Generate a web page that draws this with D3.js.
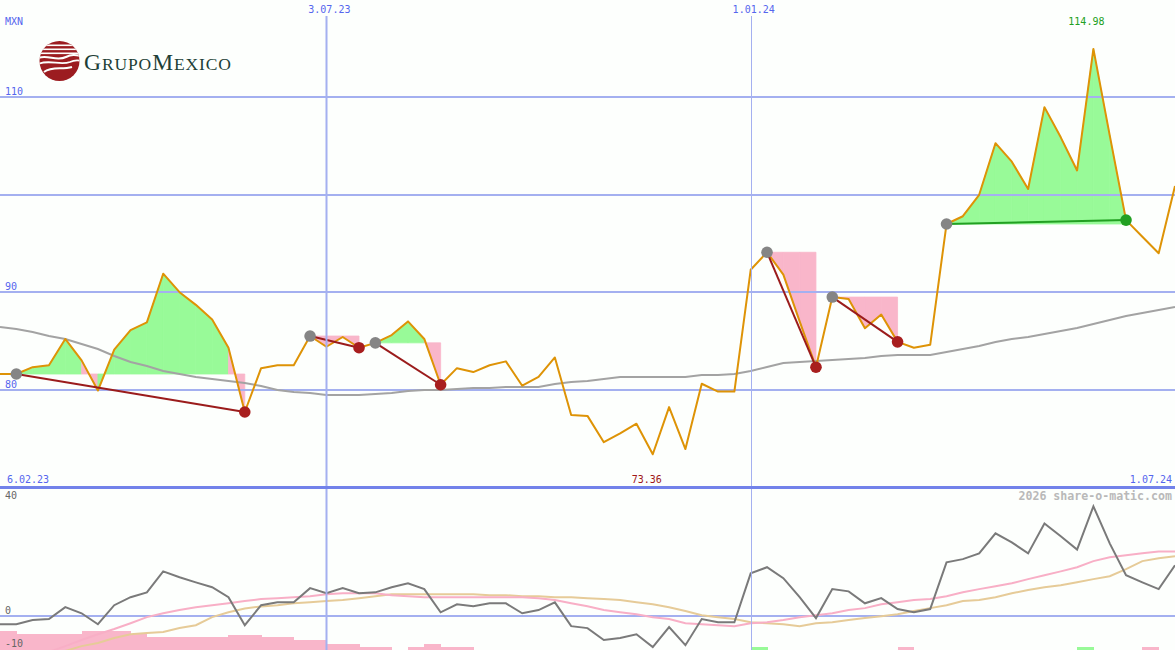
<!DOCTYPE html>
<html><head><meta charset="utf-8">
<script src="https://cdn.jsdelivr.net/npm/d3@7"></script>
<style>html,body{margin:0;padding:0;background:#fdfffd;}svg{display:block;}</style>
</head><body>
<svg id="chart" width="1175" height="650"></svg>
<script>
// ---- DATA (weekly points, index 0..72) ----
const price = [81.6,81.6,82.3,82.5,85.2,83.0,79.9,84.1,86.1,86.9,
  91.9,90.0,88.7,87.2,84.3,77.7,82.2,82.5,82.5,85.5,
  84.4,85.4,84.3,84.8,85.6,87.0,85.2,80.5,82.2,81.8,
  82.5,82.9,80.4,81.3,83.3,77.4,77.3,74.6,75.5,76.5,
  73.36,78.2,73.9,80.6,79.8,79.8,92.3,94.1,91.8,87.0,
  82.3,89.5,89.3,86.3,87.7,84.9,84.3,84.6,97.0,97.8,
  100.0,105.3,103.4,100.6,109.0,105.9,102.5,114.98,106.1,97.4,
  95.7,94.0,100.9];
const sma = [86.43,86.22,85.91,85.50,85.20,84.68,84.17,83.45,82.83,82.42,
  81.91,81.60,81.29,81.09,80.88,80.68,80.37,79.96,79.75,79.65,
  79.45,79.45,79.45,79.55,79.65,79.86,79.96,79.96,80.06,80.16,
  80.16,80.27,80.27,80.27,80.57,80.78,80.88,81.09,81.29,81.29,
  81.29,81.29,81.29,81.50,81.50,81.60,81.91,82.32,82.73,82.83,
  82.94,83.04,83.14,83.24,83.45,83.55,83.55,83.55,83.86,84.17,
  84.48,84.89,85.20,85.40,85.71,86.02,86.32,86.73,87.15,87.56,
  87.86,88.17,88.48];
const osc = [-2.6,-2.6,-1.3,-1.0,2.7,0.8,-2.6,3.3,5.8,7.3,
  13.8,12.0,10.4,8.9,5.8,-2.9,3.3,4.2,4.2,8.6,
  7.0,8.6,7.0,7.3,8.9,10.1,8.3,1.1,3.6,3.0,
  3.9,3.9,0.8,1.8,4.2,-3.2,-3.8,-7.5,-6.9,-5.7,
  -9.7,-3.5,-9.1,-1.0,-2.0,-2.0,13.2,15.1,11.7,5.8,
  -0.7,8.3,7.6,3.9,5.5,2.1,1.1,2.1,16.6,17.6,
  19.4,25.6,22.8,19.4,28.7,24.7,20.6,34.0,22.5,12.6,
  10.4,8.3,15.7];
const signalFast = [-16.8,-15.0,-13.1,-11.2,-9.4,-7.5,-5.7,-4.1,-2.3,-0.4,
  0.8,1.8,2.7,3.3,3.9,4.6,5.2,5.5,5.8,6.1,
  6.7,7.0,7.0,7.0,6.4,6.1,5.8,5.8,5.8,5.8,
  5.8,5.8,5.8,5.5,4.9,3.9,3.0,1.8,1.1,0.5,
  -0.4,-1.0,-2.3,-2.6,-2.9,-3.2,-2.3,-2.0,-1.3,-0.4,
  0.2,0.8,1.8,2.4,3.6,4.2,4.9,5.2,6.1,7.3,
  8.3,9.2,10.1,11.4,12.6,13.8,15.1,17.0,18.2,18.8,
  19.4,20.0,20.0];
const signalSlow = [-23.0,-19.9,-16.8,-13.7,-10.9,-9.4,-8.4,-6.9,-5.7,-5.3,
  -5.0,-3.8,-2.9,-0.4,1.1,2.3,2.9,3.3,3.9,4.2,
  4.6,4.9,5.5,6.1,6.7,6.7,6.7,6.7,6.7,6.7,
  6.4,6.4,6.1,6.1,5.8,5.8,5.5,5.2,4.9,4.2,
  3.6,2.7,1.5,0.2,-0.4,-1.0,-2.0,-2.3,-2.6,-3.2,
  -2.3,-2.0,-1.3,-0.7,-0.1,0.5,1.5,2.4,3.3,4.6,
  4.9,5.8,7.0,8.0,8.9,9.5,10.4,11.4,12.3,14.5,
  17.0,17.9,18.5];
const hist = [-6,-5,-5,-5,-5,-6,-6,-6,-5,-4,
  -4,-4,-4,-4,-4.7,-4.7,-4,-4,-3,-3,
  -2,-2,-1,-1,0,-1,-2,-1,-1,0,
  0,0,0,0,0,0,0,0,0,0,
  0,0,0,0,0,0,1,0,0,0,
  0,0,0,0,0,-1,0,0,0,0,
  0,0,0,0,0,0,1,0,0,0,
  -1,0,0];
const patternStart = [1,19,23,47,51,58];
const patternEnd   = [15,22,27,50,55,69];
const priceTicks = [110,100,90,80];
const priceTickLabels = ["110","","90","80"];
const lowTicks = [40,0,-10];
const dateIdx = [20,46];
const dateLabels = ["3.07.23","1.01.24"];
const startLabel = "6.02.23", endLabel = "1.07.24";
const maxLabel = "114.98", minLabel = "73.36";
const currency = "MXN";
const credit = "2026 share-o-matic.com";

// ---- SCALES ----
const svg = d3.select("#chart");
const W = 1175, H = 650;
const x = d3.scaleLinear().domain([0,72]).range([0,1175]);
const y = d3.scaleLinear().domain([70,120]).range([487,0]);
const yl = d3.scaleLinear().domain([-10.6,40]).range([650,487]);
const mono = "'DejaVu Sans Mono', monospace";
const GRID = "#a4b0f0", AXC = "#5566ee";
const PINK = "#f9b6ca", GREEN = "#98fa98";

svg.append("rect").attr("width",W).attr("height",H).attr("fill","#fdfffd");
const defs = svg.append("defs");
defs.append("clipPath").attr("id","cm").append("rect").attr("x",0).attr("y",0).attr("width",W).attr("height",486);
defs.append("clipPath").attr("id","cl").append("rect").attr("x",0).attr("y",489).attr("width",W).attr("height",161);
defs.append("clipPath").attr("id","logoClip").append("circle").attr("cx",59.5).attr("cy",61).attr("r",20);

const main = svg.append("g").attr("clip-path","url(#cm)");
const low = svg.append("g").attr("clip-path","url(#cl)");

// pattern fills
const poly = d3.line().x(d=>d[0]).y(d=>d[1]);
patternStart.forEach((s,k)=>{
  const e = patternEnd[k], base = price[s];
  for(let i=s;i<e;i++){
    const pts = [[x(i),y(base)],[x(i),y(price[i])],[x(i+1),y(price[i+1])],[x(i+1),y(base)]];
    const c = price[i+1] > base ? GREEN : PINK;
    main.append("path").attr("d",poly(pts)+"Z")
      .attr("fill", c).attr("stroke", c).attr("stroke-width",0.8).attr("stroke-linejoin","miter");
  }
});

// grid
main.selectAll(".gh").data(priceTicks).join("line")
  .attr("x1",0).attr("x2",W).attr("y1",d=>Math.round(y(d))).attr("y2",d=>Math.round(y(d)))
  .attr("stroke",GRID).attr("stroke-width",2);
svg.selectAll(".gv").data(dateIdx).join("line")
  .attr("x1",d=>Math.round(x(d))+0.5).attr("x2",d=>Math.round(x(d))+0.5)
  .attr("y1",16).attr("y2",H)
  .attr("stroke",GRID).attr("stroke-width",(d,i)=>i===0?2:1);

// SMA and price
const lineMain = d3.line().x((d,i)=>x(i)).y(d=>y(d));
main.append("path").attr("d",lineMain(sma)).attr("fill","none").attr("stroke","#a3a3a3").attr("stroke-width",2);
main.append("path").attr("d",lineMain(price)).attr("fill","none").attr("stroke","#de9306").attr("stroke-width",2).attr("stroke-linejoin","round");

// trend lines & circles
patternStart.forEach((s,k)=>{
  const e = patternEnd[k];
  const up = price[e] > price[s];
  main.append("line").attr("x1",x(s)).attr("y1",y(price[s])).attr("x2",x(e)).attr("y2",y(price[e]))
    .attr("stroke", up ? "#22a022" : "#9b1c1c").attr("stroke-width",2);
  main.append("circle").attr("cx",x(s)).attr("cy",y(price[s])).attr("r",5.8).attr("fill","#858585");
  main.append("circle").attr("cx",x(e)).attr("cy",y(price[e])).attr("r",5.8).attr("fill", up ? "#22a022" : "#a81e1e");
});

// lower panel
hist.forEach((v,i)=>{
  if(v===0) return;
  const h = yl(0)-yl(Math.abs(v));
  low.append("rect").attr("x",x(i)).attr("width",x(i+1)-x(i)+0.6).attr("y",650-h).attr("height",h)
    .attr("fill", v>0 ? GREEN : PINK).attr("shape-rendering","crispEdges");
});
low.append("line").attr("x1",0).attr("x2",W).attr("y1",Math.round(yl(0))).attr("y2",Math.round(yl(0)))
  .attr("stroke",GRID).attr("stroke-width",2);
const lineLow = d3.line().x((d,i)=>x(i)).y(d=>yl(d));
low.append("path").attr("d",lineLow(signalSlow)).attr("fill","none").attr("stroke","#e6cb98").attr("stroke-width",2);
low.append("path").attr("d",lineLow(signalFast)).attr("fill","none").attr("stroke","#f8afc6").attr("stroke-width",2);
low.append("path").attr("d",lineLow(osc)).attr("fill","none").attr("stroke","#7a7a7a").attr("stroke-width",2);

// panel divider
svg.append("line").attr("x1",0).attr("x2",W).attr("y1",487.5).attr("y2",487.5).attr("stroke","#7282ea").attr("stroke-width",3);

// labels
const txt = (s,xx,yy,col,anchor,size,weight)=>svg.append("text").text(s).attr("x",xx).attr("y",yy)
  .attr("fill",col).attr("font-family",mono).attr("font-size",size||10).attr("text-anchor",anchor||"start")
  .attr("font-weight",weight||"normal");
txt(currency,5,24.5,AXC);
priceTicks.forEach((t,i)=>{ if(priceTickLabels[i]) txt(priceTickLabels[i],5,Math.round(y(t))-2.5,AXC); });
const lowLabelY = [499,614,647];
lowTicks.forEach((t,i)=>txt(String(t),5,lowLabelY[i],"#666666"));
dateIdx.forEach((d,i)=>txt(dateLabels[i],x(d)+3,12.5,AXC,"middle"));
txt(startLabel,7,482.5,AXC);
txt(endLabel,1172,482.5,AXC,"end");
txt(maxLabel,x(price.indexOf(d3.max(price)))-7,25,"#22a022","middle");
txt(minLabel,x(price.indexOf(d3.min(price)))-6,482.5,"#a01818","middle");
txt(credit,1172,500,"#b9b9b9","end",11.6,"bold");

// logo
const logo = svg.append("g");
logo.append("circle").attr("cx",59.5).attr("cy",61).attr("r",20).attr("fill","#9c1c20");
const lg = logo.append("g").attr("clip-path","url(#logoClip)");
[44.5,48.5,52.5].forEach(yy=>lg.append("rect").attr("x",38).attr("y",yy).attr("width",44).attr("height",1.6).attr("fill","#fdfffd"));
lg.append("path").attr("d","M38,58 C48,54 56,62 66,57 C72,54 76,55 82,56").attr("fill","none").attr("stroke","#fdfffd").attr("stroke-width",2.2);
lg.append("path").attr("d","M38,64 C50,59 60,66 70,62 C74,60 78,60 82,61").attr("fill","none").attr("stroke","#fdfffd").attr("stroke-width",1.8);
lg.append("path").attr("d","M44,72 C52,66 62,70 72,67").attr("fill","none").attr("stroke","#fdfffd").attr("stroke-width",2);
const lt = logo.append("text").attr("x",84).attr("y",69.5).attr("fill","#1d3f37")
  .attr("font-family","'Liberation Serif','DejaVu Serif',serif").attr("textLength",147).attr("lengthAdjust","spacing");
lt.append("tspan").attr("font-size",23.5).text("G");
lt.append("tspan").attr("font-size",17.5).text("RUPO");
lt.append("tspan").attr("font-size",23.5).text("M");
lt.append("tspan").attr("font-size",17.5).text("EXICO");
</script>
</body></html>
